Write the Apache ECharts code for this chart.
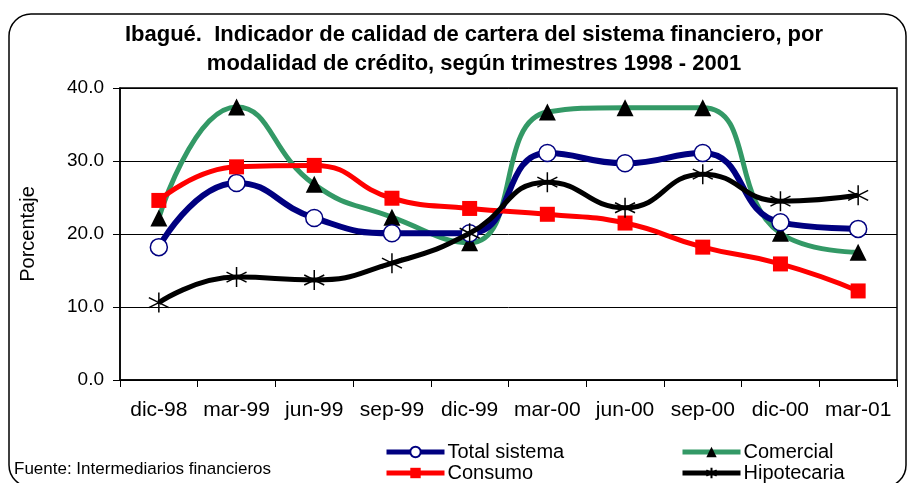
<!DOCTYPE html>
<html>
<head>
<meta charset="utf-8">
<script src="https://cdn.jsdelivr.net/npm/echarts@6/dist/echarts.min.js"></script>
<style>
  html, body { margin: 0; padding: 0; background: #fff; }
  #chart { width: 908px; height: 483px; }
</style>
</head>
<body>
<div id="chart"></div>
<script>
const categories = ['dic-98', 'mar-99', 'jun-99', 'sep-99', 'dic-99', 'mar-00', 'jun-00', 'sep-00', 'dic-00', 'mar-01'];
const totalSistema = [18.2, 27.0, 22.2, 20.1, 20.1, 31.1, 29.7, 31.1, 21.6, 20.7];
const comercial = [22.2, 37.4, 26.8, 22.3, 18.8, 36.7, 37.3, 37.3, 20.1, 17.5];
const consumo = [24.6, 29.2, 29.4, 24.9, 23.5, 22.7, 21.5, 18.2, 15.9, 12.2];
const hipotecaria = [10.6, 14.1, 13.7, 16.0, 20.1, 27.1, 23.6, 28.2, 24.5, 25.3];

const font = 'Liberation Sans, Arial, sans-serif';
const starPath = 'path://M10,0 L10,20 M1.3,5 L18.7,15 M1.3,15 L18.7,5';

const myChart = echarts.init(document.getElementById('chart'));

// one legend per entry so the two columns line up like the original
function legendAt(name, left, top) {
  return {
    data: [name],
    left: left,
    top: top,
    itemWidth: 58,
    itemHeight: 13,
    itemGap: 0,
    padding: 0,
    lineStyle: { width: 5 },
    textStyle: { fontFamily: font, fontSize: 20, color: '#000', padding: [0, 0, 0, -2] }
  };
}

const option = {
  animation: false,
  title: {
    text: 'Ibagué.  Indicador de calidad de cartera del sistema financiero, por\nmodalidad de crédito, según trimestres 1998 - 2001',
    left: 474,
    top: 20,
    textAlign: 'center',
    padding: 0,
    textStyle: {
      fontFamily: font,
      fontSize: 22,
      fontWeight: 'bold',
      lineHeight: 29,
      color: '#000'
    }
  },
  graphic: [
    {
      type: 'rect',
      shape: { x: 9, y: 14, width: 897, height: 473, r: 22 },
      style: { fill: 'none', stroke: '#000', lineWidth: 1.5 },
      z: -1
    },
    {
      type: 'text',
      left: 14,
      top: 461,
      style: {
        text: 'Fuente: Intermediarios financieros',
        font: '17px ' + font,
        fill: '#000'
      }
    }
  ],
  legend: [
    legendAt('Total sistema', 384, 442),
    legendAt('Consumo', 384, 463),
    legendAt('Comercial', 680, 442),
    legendAt('Hipotecaria', 680, 463)
  ],
  grid: {
    show: true,
    left: 120,
    right: 11,
    top: 88,
    bottom: 103,
    borderColor: '#000',
    borderWidth: 1.5
  },
  xAxis: {
    type: 'category',
    data: categories,
    boundaryGap: true,
    axisLine: { lineStyle: { color: '#000', width: 1.5 } },
    axisTick: { show: true, length: 7, interval: 0, lineStyle: { color: '#000' } },
    axisLabel: {
      interval: 0,
      margin: 20,
      fontFamily: font,
      fontSize: 21,
      color: '#000'
    }
  },
  yAxis: {
    type: 'value',
    min: 0,
    max: 40,
    interval: 10,
    name: 'Porcentaje',
    nameLocation: 'middle',
    nameGap: 82,
    nameTextStyle: { fontFamily: font, fontSize: 20, color: '#000' },
    axisLine: { show: true, lineStyle: { color: '#000', width: 1.5 } },
    axisTick: { show: true, length: 7, lineStyle: { color: '#000' } },
    axisLabel: {
      margin: 16,
      fontFamily: font,
      fontSize: 19,
      color: '#000',
      formatter: v => v.toFixed(1)
    },
    splitLine: { lineStyle: { color: '#000', width: 1 } }
  },
  series: [
    {
      name: 'Total sistema',
      type: 'line',
      data: totalSistema,
      smooth: 0.5,
      symbol: 'circle',
      symbolSize: 17,
      lineStyle: { color: '#000080', width: 6 },
      itemStyle: { color: '#fff', borderColor: '#000080', borderWidth: 1.5 },
      z: 3
    },
    {
      name: 'Consumo',
      type: 'line',
      data: consumo,
      smooth: 0.5,
      symbol: 'rect',
      symbolSize: 15,
      lineStyle: { color: '#ff0000', width: 5 },
      itemStyle: { color: '#ff0000', borderColor: '#ff0000', borderWidth: 0 },
      z: 4
    },
    {
      name: 'Comercial',
      type: 'line',
      data: comercial,
      smooth: 0.5,
      symbol: 'triangle',
      symbolSize: 17,
      lineStyle: { color: '#339966', width: 5 },
      itemStyle: { color: '#000', borderColor: '#000', borderWidth: 0 },
      z: 2
    },
    {
      name: 'Hipotecaria',
      type: 'line',
      data: hipotecaria,
      smooth: 0.5,
      symbol: starPath,
      symbolSize: 20,
      lineStyle: { color: '#000', width: 5 },
      itemStyle: { color: 'none', borderColor: '#000', borderWidth: 1.5 },
      z: 5
    }
  ]
};

myChart.setOption(option);
</script>
</body>
</html>
